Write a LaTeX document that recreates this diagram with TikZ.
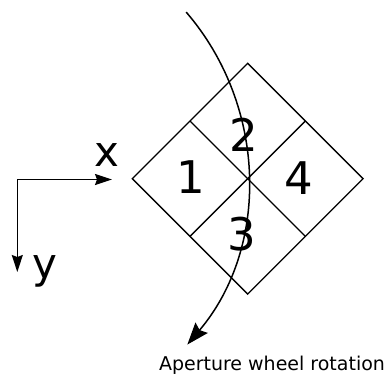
\documentclass[tikz,border=0pt]{standalone}
\usepackage{fontspec}
\setmainfont{DejaVu Sans}
\usetikzlibrary{arrows.meta,calc}
\begin{document}
\begin{tikzpicture}[x=1pt,y=-1pt,
  shape line/.style={line width=1.3pt},
  big digit/.style={font=\fontsize{45}{45}\selectfont, anchor=base, inner sep=0pt},
  axis label/.style={font=\fontsize{42}{42}\selectfont, anchor=base, inner sep=0pt},
  axis arrow/.style={line width=1.5pt, -{Stealth[length=17pt,width=11pt,inset=2pt]}},
  rot arrow/.style={line width=1.5pt, -{Stealth[length=22pt,width=16pt,inset=3pt]}},
  caption/.style={font=\fontsize{19}{19}\selectfont, anchor=base, inner sep=0pt}]
\useasboundingbox (0,0) rectangle (390,376);
% diamond
\coordinate (T) at (247.7,63.3);
\coordinate (L) at (132.3,178.7);
\coordinate (R) at (363.1,178.7);
\coordinate (B) at (247.7,294.1);
\coordinate (C) at (247.7,178.7);
\draw[shape line, line join=miter] (T) -- (R) -- (B) -- (L) -- cycle;
\draw[shape line] ($ (T)!0.5!(L) $) -- ($ (R)!0.5!(B) $);
\draw[shape line] ($ (T)!0.5!(R) $) -- ($ (L)!0.5!(B) $);
% digits
\node[big digit] (n1) at (190.7,193) {1};
\node[big digit] (n2) at (244,151) {2};
\node[big digit] (n3) at (241.7,250.5) {3};
\node[big digit] (n4) at (299,194.5) {4};
% rotation arc
\coordinate (ac) at (-7.9,179);
\draw[rot arrow] ([shift={(-40.7:256)}]ac) arc[start angle=-40.7, end angle=40.3, radius=256];
\node[caption] (cap) at (272,370.7) {Aperture wheel rotation};
% axes
\coordinate (o) at (17.3,179.5);
\coordinate (xe) at (112,179.5);
\coordinate (ye) at (17.3,272);
\draw[axis arrow] (o) -- (xe);
\draw[axis arrow] (o) -- (ye);
\node[axis label] (xl) at (106.7,166) {x};
\node[axis label] (yl) at (45,278) {y};
\end{tikzpicture}
\end{document}
